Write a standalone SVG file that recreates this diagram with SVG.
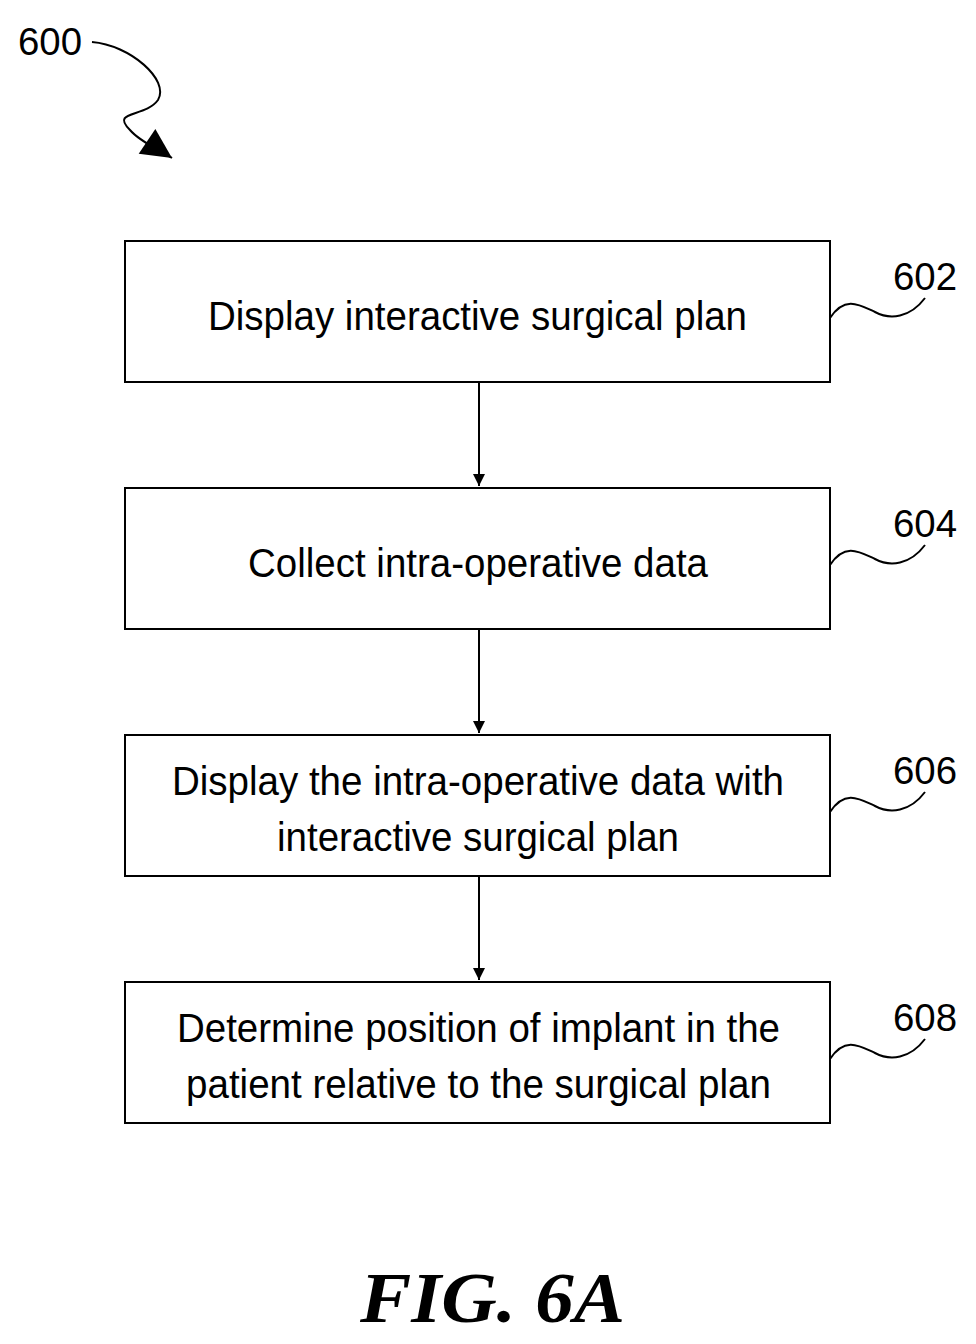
<svg xmlns="http://www.w3.org/2000/svg" width="976" height="1344" viewBox="0 0 976 1344">
<style>
.box{fill:#fff;stroke:#000;stroke-width:2}
.t{font-family:"Liberation Sans",Arial,sans-serif;font-size:40px;fill:#000}
.l{font-family:"Liberation Sans",Arial,sans-serif;font-size:38px;fill:#000}
.c{fill:none;stroke:#000;stroke-width:2}
</style>
<defs><marker id="a" markerWidth="12" markerHeight="12" refX="10" refY="5" orient="auto" markerUnits="userSpaceOnUse" viewBox="0 0 10 10"><path d="M0,0L10,5L0,10z" fill="#000"/></marker>
<marker id="b" markerWidth="40" markerHeight="30" refX="10" refY="5" orient="auto" markerUnits="userSpaceOnUse" viewBox="0 0 10 10"><path d="M0,0L10,5L0,10z" fill="#000"/></marker></defs>
<rect width="976" height="1344" fill="#fff"/>
<g id="n600"><text class="l" x="18" y="55" textLength="64" lengthAdjust="spacingAndGlyphs">600</text>
<path class="c" d="M92,42 C130,45 170,80 158,100 C145,118 110,110 130,130 C140,142 160,150 172,158" marker-end="url(#b)"/></g>
<g id="n602"><rect class="box" x="125" y="241" width="705" height="141"/>
<text class="t" x="208" y="330" textLength="539" lengthAdjust="spacingAndGlyphs">Display interactive surgical plan</text>
<text class="l" x="893" y="290" textLength="64" lengthAdjust="spacingAndGlyphs">602</text>
<path class="c" d="M830,318 C845,295 860,305 875,312 C890,320 910,318 925,298"/></g>
<g id="n604"><rect class="box" x="125" y="488" width="705" height="141"/>
<text class="t" x="248" y="577" textLength="460" lengthAdjust="spacingAndGlyphs">Collect intra-operative data</text>
<text class="l" x="893" y="537" textLength="64" lengthAdjust="spacingAndGlyphs">604</text>
<path class="c" d="M830,565 C845,542 860,552 875,559 C890,567 910,565 925,545"/></g>
<g id="n606"><rect class="box" x="125" y="735" width="705" height="141"/>
<text class="t" x="172" y="795" textLength="612" lengthAdjust="spacingAndGlyphs">Display the intra-operative data with</text>
<text class="t" x="277" y="851" textLength="402" lengthAdjust="spacingAndGlyphs">interactive surgical plan</text>
<text class="l" x="893" y="784" textLength="64" lengthAdjust="spacingAndGlyphs">606</text>
<path class="c" d="M830,812 C845,789 860,799 875,806 C890,814 910,812 925,792"/></g>
<g id="n608"><rect class="box" x="125" y="982" width="705" height="141"/>
<text class="t" x="177" y="1042" textLength="603" lengthAdjust="spacingAndGlyphs">Determine position of implant in the</text>
<text class="t" x="186" y="1098" textLength="585" lengthAdjust="spacingAndGlyphs">patient relative to the surgical plan</text>
<text class="l" x="893" y="1031" textLength="64" lengthAdjust="spacingAndGlyphs">608</text>
<path class="c" d="M830,1059 C845,1036 860,1046 875,1053 C890,1061 910,1059 925,1039"/></g>
<g id="connectors">
<path class="c" d="M479,382V486" marker-end="url(#a)"/>
<path class="c" d="M479,629V733" marker-end="url(#a)"/>
<path class="c" d="M479,876V980" marker-end="url(#a)"/>
</g>
<text x="360" y="1322" font-family="Liberation Serif,serif" font-size="72" font-weight="bold" font-style="italic" textLength="265" lengthAdjust="spacingAndGlyphs">FIG. 6A</text>
</svg>
